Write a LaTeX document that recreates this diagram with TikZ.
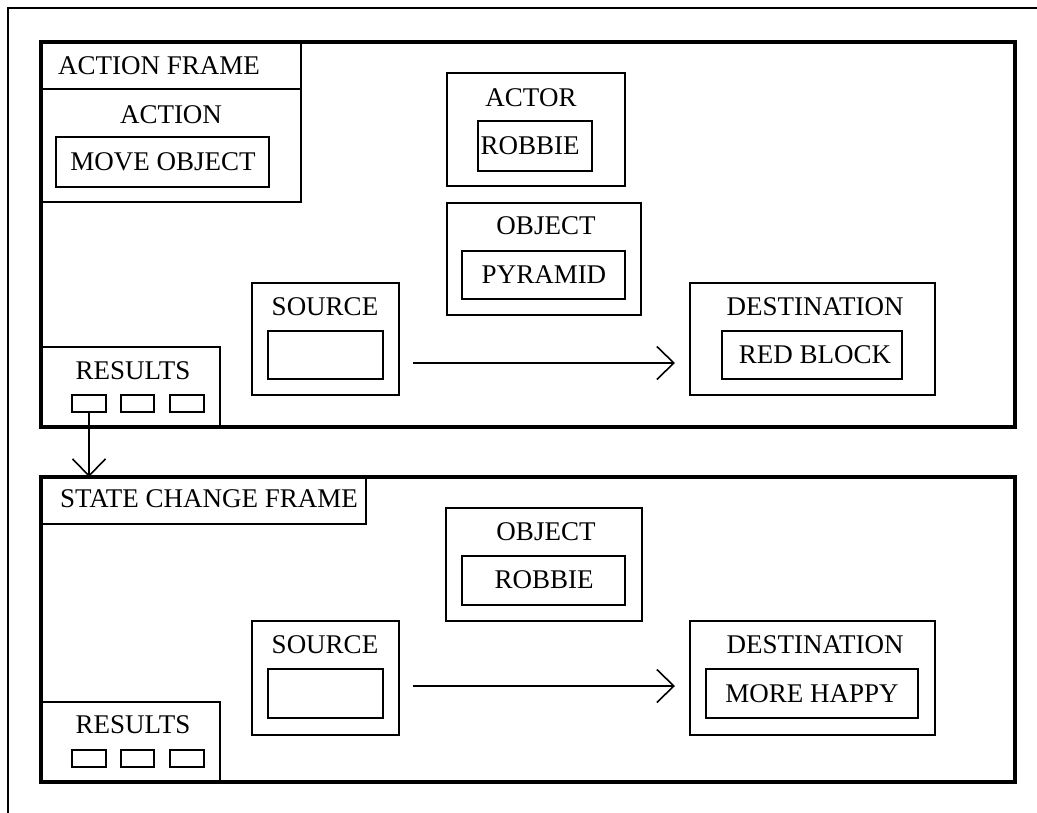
\documentclass[tikz,border=0pt]{standalone}
\usepackage{fontspec}
\setmainfont{Liberation Serif}
\usetikzlibrary{arrows.meta}
\begin{document}
\begin{tikzpicture}[x=1pt,y=-1pt,
  box/.style={draw, line width=1.6pt, inner sep=0pt, outer sep=0pt, anchor=north west},
  framebox/.style={draw, line width=4pt, inner sep=0pt, outer sep=0pt, anchor=north west},
  lbl/.style={font=\fontsize{27}{30}\selectfont, inner sep=0pt, text height=17.9pt, text depth=0pt},
  arr/.style={line width=1.6pt, -{Straight Barb[length=17pt,width=33pt,line width=1.6pt]}}]
\useasboundingbox (0,0) rectangle (1037,812);

% outer border (only top and left edges fall within the page)
\coordinate (tl) at (8,8);
\coordinate (tr) at (1040,8);
\coordinate (bl) at (8,815);
\draw[line width=2pt] (tr) -- (tl) -- (bl);

% ---------------- action frame ----------------
\node[framebox, minimum width=974pt, minimum height=385pt] (aframe) at (41,42) {};
\node[box, minimum width=260pt, minimum height=47pt] (ahead) at (41,42) {};
\node[lbl, anchor=west] (aheadt) at (58,66) {ACTION FRAME};
\node[box, minimum width=260pt, minimum height=113pt] (abox) at (41,89) {};
\node[lbl] (aboxt) at (171,115) {ACTION};
\node[box, minimum width=213pt, minimum height=50pt] (mv) at (56,137) {};
\node[lbl] (mvt) at (163,162) {MOVE OBJECT};

\node[box, minimum width=178pt, minimum height=113pt] (actor) at (447,73) {};
\node[lbl] (actort) at (531,98) {ACTOR};
\node[box, minimum width=114pt, minimum height=50pt] (rob1) at (478,121) {};
\node[lbl] (rob1t) at (530,146) {ROBBIE};

\node[box, minimum width=194pt, minimum height=112pt] (obj1) at (447,203) {};
\node[lbl] (obj1t) at (546,226) {OBJECT};
\node[box, minimum width=163pt, minimum height=48pt] (pyr) at (462,251) {};
\node[lbl] (pyrt) at (544,275) {PYRAMID};

\node[box, minimum width=147pt, minimum height=112pt] (src1) at (252,283) {};
\node[lbl] (src1t) at (325,307) {SOURCE};
\node[box, minimum width=115pt, minimum height=48pt] (src1v) at (268,331) {};

\node[box, minimum width=245pt, minimum height=112pt] (dst1) at (690,283) {};
\node[lbl] (dst1t) at (815,307) {DESTINATION};
\node[box, minimum width=180pt, minimum height=48pt] (red) at (722,331) {};
\node[lbl] (redt) at (815,355) {RED BLOCK};

\draw[arr] ([xshift=14pt,yshift=32pt]src1.south east) coordinate (a1s) -- ([xshift=-15pt]a1s -| dst1.west);

\node[box, minimum width=179pt, minimum height=80pt] (res1) at (41,347) {};
\node[lbl] (res1t) at (133,371) {RESULTS};
\node[box, minimum width=34pt, minimum height=17pt] (r1a) at (72,395) {};
\node[box, minimum width=33pt, minimum height=17pt] (r1b) at (121,395) {};
\node[box, minimum width=34pt, minimum height=17pt] (r1c) at (170,395) {};

% ---------------- state change frame ----------------
\node[framebox, minimum width=974pt, minimum height=305pt] (sframe) at (41,477) {};
\node[box, minimum width=325pt, minimum height=47pt] (shead) at (41,477) {};
\node[lbl] (sheadt) at (209,499) {STATE CHANGE FRAME};

\draw[arr] (r1a.south) -- (r1a.south |- sframe.north);

\node[box, minimum width=196pt, minimum height=113pt] (obj2) at (446,508) {};
\node[lbl] (obj2t) at (546,532) {OBJECT};
\node[box, minimum width=163pt, minimum height=49pt] (rob2) at (462,556) {};
\node[lbl] (rob2t) at (544,580) {ROBBIE};

\node[box, minimum width=147pt, minimum height=114pt] (src2) at (252,621) {};
\node[lbl] (src2t) at (325,645) {SOURCE};
\node[box, minimum width=115pt, minimum height=49pt] (src2v) at (268,669) {};

\node[box, minimum width=245pt, minimum height=114pt] (dst2) at (690,621) {};
\node[lbl] (dst2t) at (815,645) {DESTINATION};
\node[box, minimum width=212pt, minimum height=49pt] (hap) at (706,669) {};
\node[lbl] (hapt) at (812,694) {MORE HAPPY};

\draw[arr] ([xshift=14pt,yshift=49pt]src2.south east) coordinate (a2s) -- ([xshift=-15pt]a2s -| dst2.west);

\node[box, minimum width=179pt, minimum height=80pt] (res2) at (41,702) {};
\node[lbl] (res2t) at (133,725) {RESULTS};
\node[box, minimum width=34pt, minimum height=17pt] (r2a) at (72,750) {};
\node[box, minimum width=33pt, minimum height=17pt] (r2b) at (121,750) {};
\node[box, minimum width=34pt, minimum height=17pt] (r2c) at (170,750) {};
\end{tikzpicture}
\end{document}
